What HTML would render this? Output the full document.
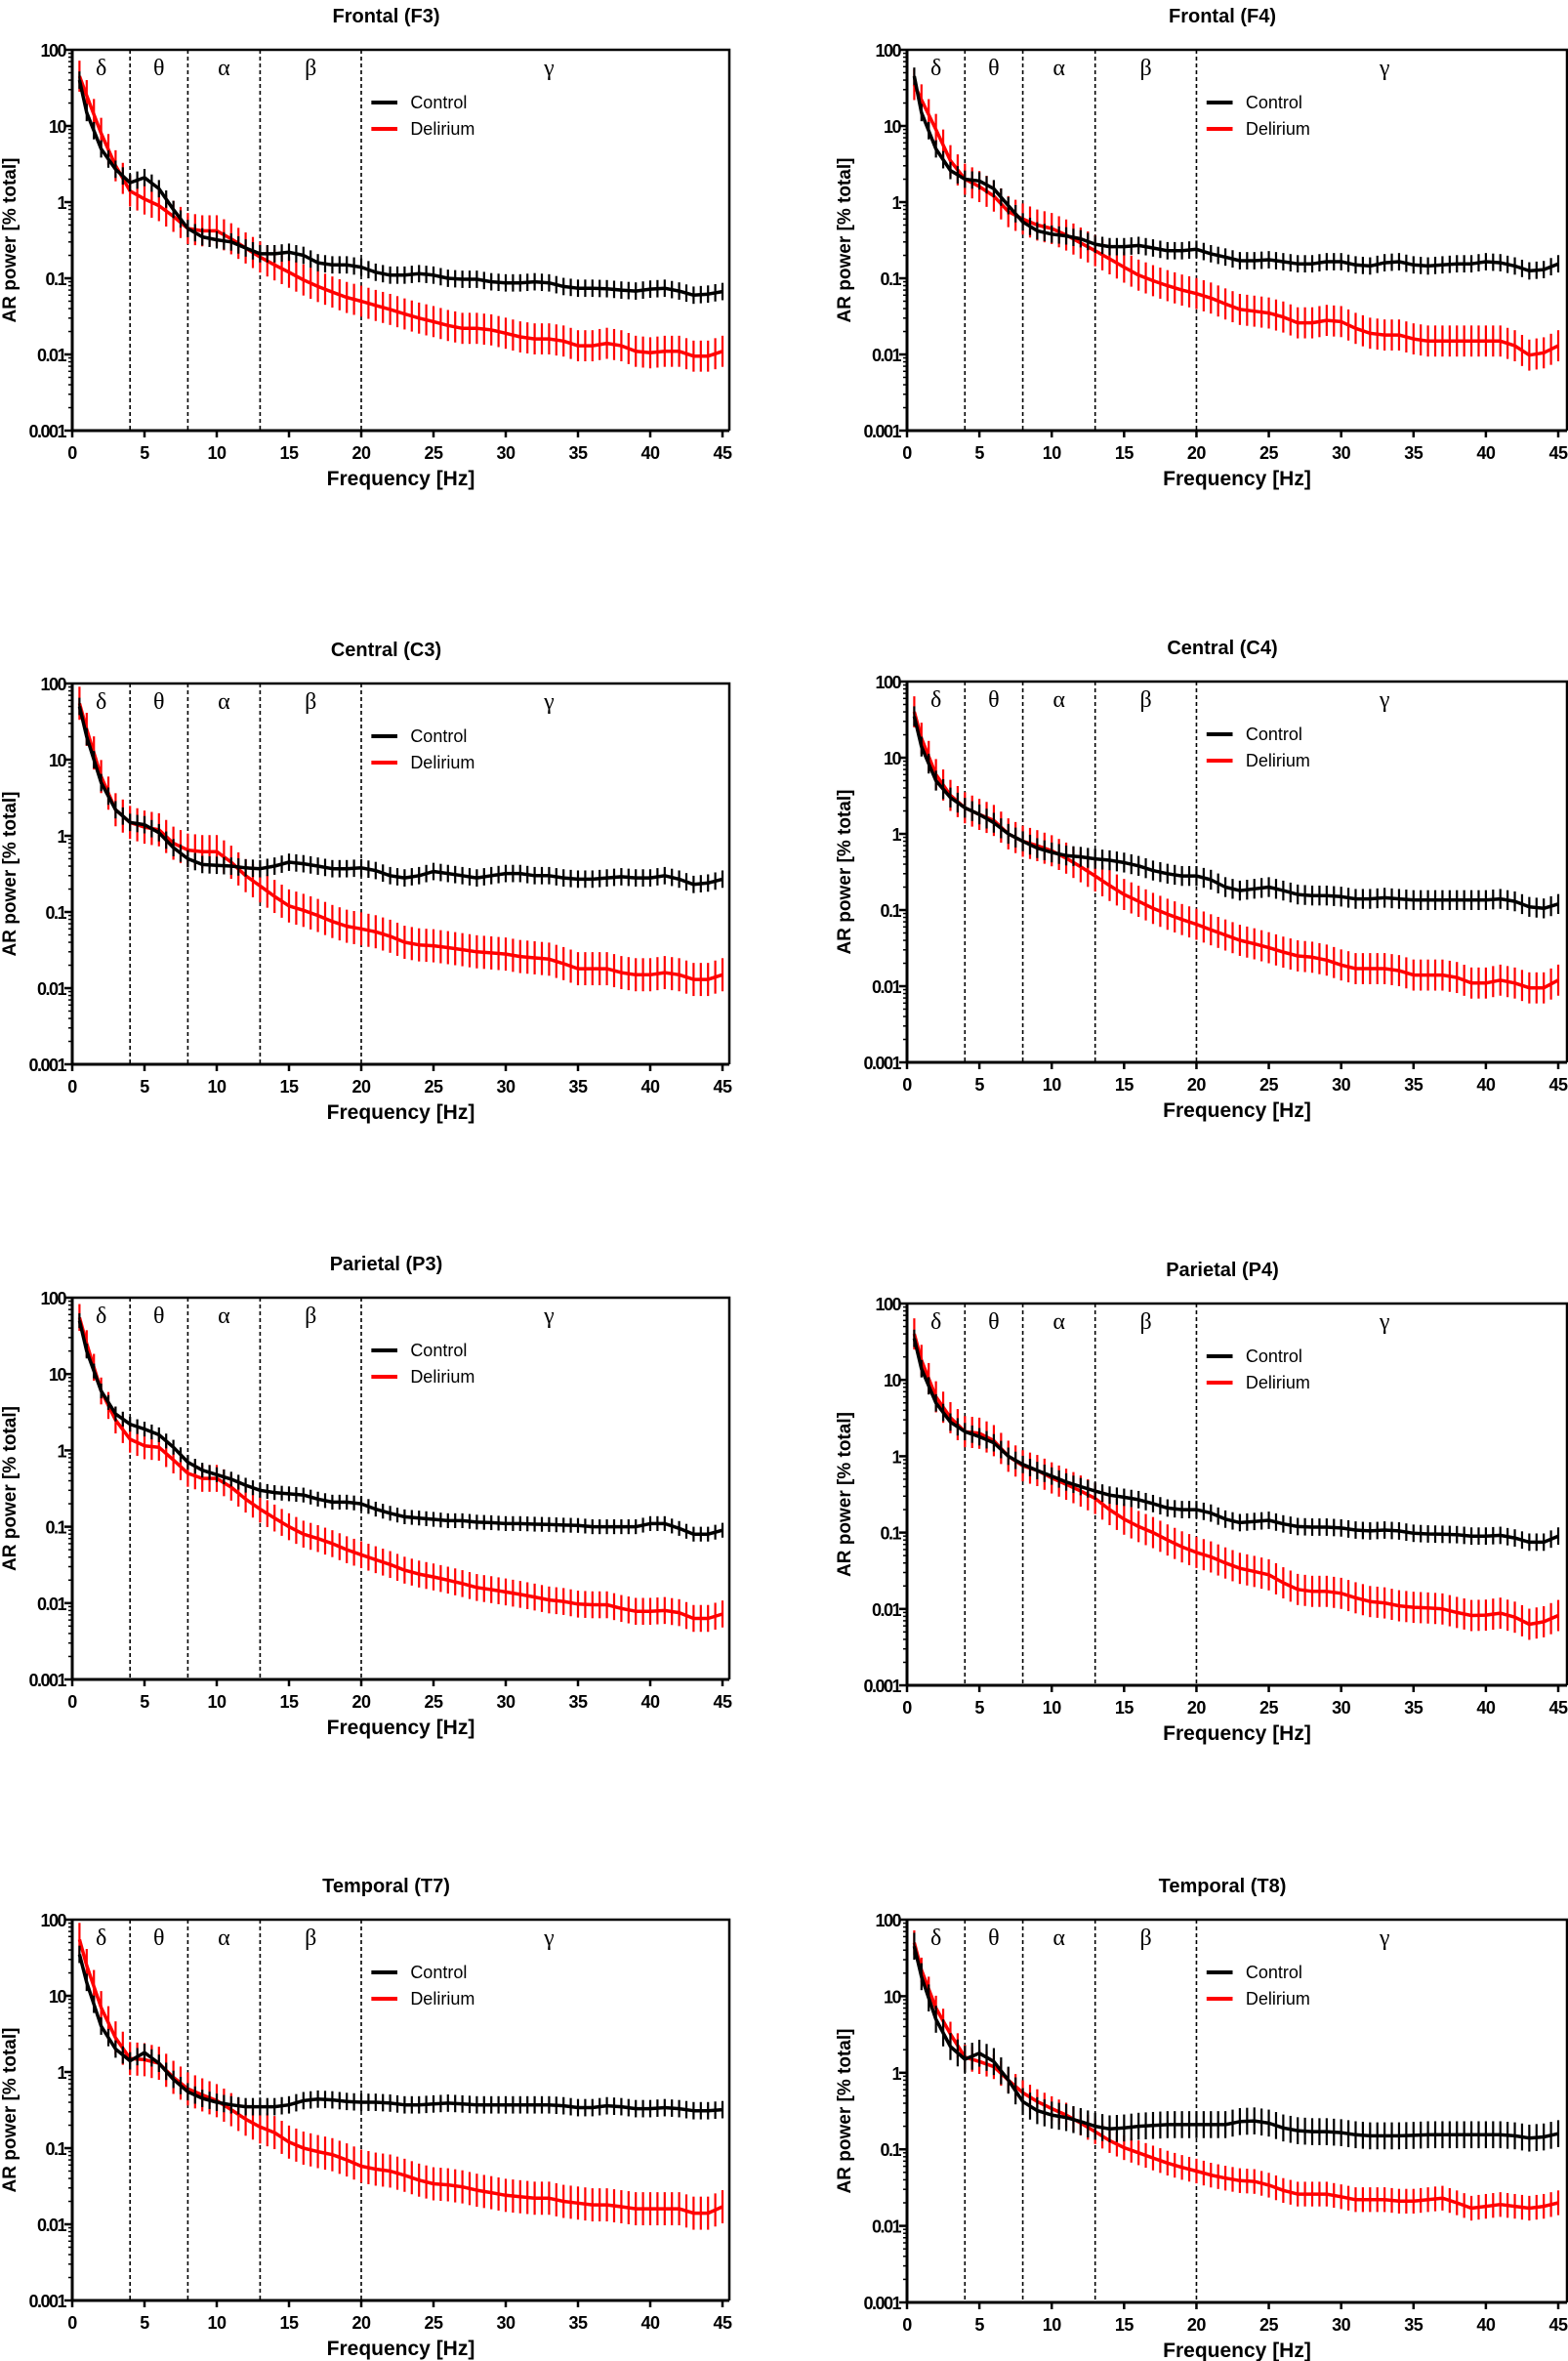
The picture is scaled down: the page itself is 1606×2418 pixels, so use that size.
<!DOCTYPE html>
<html><head><meta charset="utf-8"><style>
html,body{margin:0;padding:0;background:#fff;}
svg{display:block;}
</style></head><body>
<svg id="fig" width="1606" height="2418" viewBox="0 0 1606 2418" xmlns="http://www.w3.org/2000/svg" font-family="Liberation Sans, sans-serif"></svg>
<script>
const freqs = [0.5,1,2,3,4,5,6,7,8,9,10,11,12,13,14,15,16,17,18,19,20,21,22,23,24,25,26,27,28,29,30,31,32,33,34,35,36,37,38,39,40,41,42,43,44,45];
const panelTitles = ["Frontal (F3)","Frontal (F4)","Central (C3)","Central (C4)","Parietal (P3)","Parietal (P4)","Temporal (T7)","Temporal (T8)"];
const yTicks = [100,10,1,0.1,0.01,0.001];
const yTickLabels = ["100","10","1","0.1","0.01","0.001"];
const xTicks = [0,5,10,15,20,25,30,35,40,45];
const bandEdges = [4,8,13,20];
const bandNames = ["δ","θ","α","β","γ"];
const bandCenters = [2,6,10.5,16.5,33];
const errCtrl = [1.3,1.3,1.3,1.35,1.25,1.3,1.3,1.5];
const errDel = [1.6,1.6,1.65,1.6,1.5,1.6,1.65,1.45];

const ctrlF3 = [40,15,5,2.7,1.8,2.1,1.5,0.8,0.45,0.35,0.32,0.3,0.25,0.21,0.21,0.22,0.2,0.16,0.15,0.15,0.14,0.12,0.11,0.11,0.115,0.11,0.1,0.097,0.097,0.09,0.087,0.087,0.09,0.087,0.078,0.074,0.074,0.073,0.07,0.068,0.072,0.074,0.068,0.06,0.062,0.067];
const delF3 = [45,25,8,3,1.4,1.1,0.9,0.65,0.45,0.42,0.42,0.33,0.25,0.19,0.15,0.12,0.095,0.078,0.066,0.056,0.05,0.044,0.039,0.034,0.03,0.027,0.024,0.022,0.022,0.021,0.019,0.017,0.016,0.016,0.015,0.013,0.013,0.014,0.013,0.011,0.0105,0.011,0.011,0.0095,0.0095,0.011];
const ctrlF4 = [45,15,5,2.6,2.0,1.9,1.5,0.9,0.55,0.42,0.38,0.36,0.33,0.28,0.26,0.26,0.27,0.25,0.23,0.23,0.24,0.21,0.19,0.17,0.17,0.175,0.165,0.155,0.155,0.165,0.165,0.15,0.145,0.16,0.165,0.15,0.145,0.15,0.155,0.155,0.165,0.16,0.145,0.125,0.13,0.155];
const delF4 = [35,22,9,3.5,2.0,1.6,1.2,0.75,0.6,0.5,0.45,0.37,0.29,0.23,0.18,0.14,0.11,0.093,0.08,0.07,0.063,0.055,0.046,0.039,0.037,0.035,0.031,0.026,0.026,0.028,0.027,0.022,0.019,0.018,0.018,0.016,0.015,0.015,0.015,0.015,0.015,0.015,0.013,0.0098,0.0105,0.013];
const ctrlC3 = [50,20,5,2.2,1.5,1.4,1.1,0.7,0.5,0.42,0.41,0.4,0.38,0.37,0.4,0.45,0.43,0.4,0.37,0.37,0.38,0.35,0.3,0.28,0.3,0.34,0.32,0.3,0.28,0.3,0.32,0.32,0.3,0.3,0.28,0.27,0.27,0.28,0.29,0.28,0.28,0.3,0.27,0.23,0.24,0.27];
const delC3 = [55,25,6,2.2,1.5,1.3,1.2,0.8,0.65,0.62,0.62,0.45,0.3,0.22,0.16,0.12,0.105,0.09,0.075,0.065,0.06,0.055,0.048,0.04,0.037,0.036,0.034,0.032,0.03,0.029,0.028,0.026,0.025,0.024,0.021,0.018,0.018,0.018,0.016,0.015,0.015,0.016,0.015,0.013,0.013,0.015];
const ctrlC4 = [35,14,5,3,2.2,1.8,1.4,1.0,0.8,0.65,0.57,0.52,0.5,0.47,0.45,0.42,0.38,0.33,0.3,0.28,0.28,0.25,0.2,0.18,0.19,0.2,0.18,0.16,0.155,0.155,0.15,0.14,0.14,0.145,0.14,0.135,0.135,0.135,0.135,0.135,0.135,0.14,0.13,0.11,0.105,0.12];
const delC4 = [40,18,6,3.2,2.2,1.8,1.5,1.0,0.8,0.7,0.6,0.48,0.37,0.28,0.21,0.16,0.13,0.105,0.088,0.075,0.065,0.055,0.047,0.04,0.036,0.032,0.028,0.025,0.024,0.022,0.019,0.017,0.017,0.017,0.016,0.014,0.014,0.014,0.013,0.011,0.011,0.012,0.011,0.0095,0.0095,0.012];
const ctrlP3 = [50,20,6,3,2.2,1.9,1.6,1.1,0.7,0.55,0.48,0.42,0.35,0.3,0.28,0.27,0.26,0.23,0.21,0.21,0.2,0.17,0.15,0.135,0.13,0.125,0.12,0.12,0.115,0.113,0.11,0.11,0.108,0.107,0.105,0.104,0.1,0.1,0.1,0.1,0.11,0.11,0.095,0.08,0.08,0.09];
const delP3 = [55,25,6,2.5,1.4,1.15,1.1,0.75,0.5,0.43,0.43,0.33,0.23,0.17,0.13,0.1,0.08,0.07,0.06,0.05,0.043,0.037,0.032,0.027,0.024,0.022,0.02,0.018,0.016,0.015,0.014,0.013,0.012,0.011,0.0105,0.0097,0.0095,0.0095,0.0085,0.0078,0.0078,0.008,0.0075,0.0063,0.0063,0.0072];
const ctrlP4 = [35,14,5,2.8,2.1,1.8,1.5,1.0,0.78,0.65,0.55,0.46,0.4,0.35,0.31,0.29,0.27,0.24,0.21,0.2,0.2,0.18,0.15,0.135,0.14,0.145,0.13,0.12,0.118,0.118,0.115,0.108,0.105,0.108,0.105,0.098,0.096,0.095,0.094,0.09,0.09,0.092,0.085,0.075,0.075,0.09];
const delP4 = [40,18,6,3.2,2.1,2.0,1.6,1.0,0.75,0.65,0.52,0.43,0.35,0.28,0.2,0.15,0.12,0.1,0.08,0.065,0.055,0.048,0.04,0.034,0.031,0.028,0.022,0.018,0.017,0.017,0.016,0.014,0.0125,0.012,0.011,0.0105,0.0103,0.01,0.009,0.0082,0.0083,0.0088,0.0078,0.0063,0.0068,0.0082];
const ctrlT7 = [35,15,4,2,1.4,1.8,1.3,0.8,0.55,0.45,0.4,0.37,0.35,0.35,0.35,0.37,0.42,0.44,0.43,0.41,0.4,0.4,0.39,0.37,0.37,0.38,0.39,0.38,0.37,0.37,0.37,0.37,0.37,0.37,0.36,0.34,0.34,0.36,0.35,0.33,0.33,0.34,0.33,0.31,0.31,0.32];
const delT7 = [55,25,7,2.8,1.5,1.45,1.3,0.85,0.6,0.5,0.42,0.32,0.24,0.19,0.16,0.12,0.1,0.09,0.082,0.07,0.058,0.053,0.05,0.044,0.038,0.034,0.033,0.031,0.028,0.026,0.024,0.023,0.022,0.022,0.02,0.019,0.018,0.018,0.017,0.016,0.016,0.016,0.016,0.014,0.014,0.017];
const ctrlT8 = [45,18,5,2.2,1.5,1.8,1.4,0.8,0.42,0.32,0.28,0.26,0.23,0.2,0.185,0.19,0.2,0.205,0.21,0.21,0.21,0.21,0.21,0.23,0.235,0.22,0.19,0.175,0.17,0.17,0.165,0.155,0.15,0.15,0.15,0.152,0.155,0.155,0.155,0.155,0.155,0.155,0.15,0.14,0.145,0.16];
const delT8 = [50,22,7,3.2,1.6,1.4,1.2,0.8,0.55,0.42,0.34,0.28,0.22,0.17,0.13,0.105,0.09,0.077,0.066,0.058,0.052,0.046,0.042,0.039,0.038,0.034,0.029,0.026,0.026,0.026,0.024,0.022,0.022,0.022,0.021,0.021,0.022,0.023,0.02,0.017,0.018,0.019,0.018,0.017,0.018,0.02];

const ctrlSeries = [ctrlF3,ctrlF4,ctrlC3,ctrlC4,ctrlP3,ctrlP4,ctrlT7,ctrlT8];
const delSeries = [delF3,delF4,delC3,delC4,delP3,delP4,delT7,delT8];

const layout = [
 {x0:74,x45:740,xr:747,top:51,bot:441},
 {x0:929,x45:1596,xr:1605,top:51,bot:441},
 {x0:74,x45:740,xr:747,top:700,bot:1090},
 {x0:929,x45:1596,xr:1605,top:698,bot:1088},
 {x0:74,x45:740,xr:747,top:1329,bot:1720},
 {x0:929,x45:1596,xr:1605,top:1335,bot:1726},
 {x0:74,x45:740,xr:747,top:1966,bot:2356},
 {x0:929,x45:1596,xr:1605,top:1966,bot:2358}
];

const NS = "http://www.w3.org/2000/svg";
const svg = document.getElementById('fig');
function mk(tag, attrs, parent){
  const e = document.createElementNS(NS, tag);
  for (const k in attrs) e.setAttribute(k, attrs[k]);
  (parent||svg).appendChild(e);
  return e;
}

panelTitles.forEach((title, i) => {
  const L = layout[i];
  const g = mk('g', {});
  
  
  const xs = f => L.x0 + (L.x45 - L.x0) * f / 45;
  const ys = v => L.top + (L.bot - L.top) * (2 - Math.log10(v)) / 5;
  const cx = (L.x0 + L.xr) / 2;

  const t = mk('text', {x: cx - 15, y: L.top - 28, 'text-anchor':'middle', 'font-size':20, 'font-weight':'bold'}, g);
  t.textContent = title;
  
  

  bandEdges.forEach(b => {
    const d = mk('line', {x1: xs(b), x2: xs(b), y1: L.top, y2: L.bot, stroke:'#000', 'stroke-width':1.6, 'stroke-dasharray':'4,3'}, g);
    
    
  });
  bandNames.forEach((n, k) => {
    const bt = mk('text', {x: xs(bandCenters[k]), y: L.top + 26, 'text-anchor':'middle', 'font-size':24, 'font-family':'Liberation Serif, serif'}, g);
    bt.textContent = n;
    
    
  });

  const drawSeries = (vals, err, color, name) => {
    const sg = mk('g', {}, g);
    
    
    vals.forEach((v, k) => {
      const eb = mk('line', {x1: xs(freqs[k]), x2: xs(freqs[k]), y1: ys(v*err), y2: ys(v/err), stroke: color, 'stroke-width':2.2}, sg);
      
      
      if (k > 0 && freqs[k] - freqs[k-1] >= 1) {
        const fm = (freqs[k] + freqs[k-1]) / 2;
        const vm = Math.sqrt(v * vals[k-1]);
        const em = mk('line', {x1: xs(fm), x2: xs(fm), y1: ys(vm*err), y2: ys(vm/err), stroke: color, 'stroke-width':2.2}, sg);
        
        
      }
    });
    const pts = vals.map((v, k) => xs(freqs[k]).toFixed(1) + ',' + ys(v).toFixed(1)).join(' ');
    const pl = mk('polyline', {points: pts, fill:'none', stroke: color, 'stroke-width':3.5, 'stroke-linejoin':'round'}, sg);
    
    
  };
  drawSeries(delSeries[i], errDel[i], '#ff0000', 'delirium');
  drawSeries(ctrlSeries[i], errCtrl[i], '#000000', 'control');

  const fr = mk('path', {d: `M${L.x0},${L.top} H${L.xr} V${L.bot}`, fill:'none', stroke:'#000', 'stroke-width':2.5}, g);
  
  
  const ya = mk('line', {x1: L.x0, x2: L.x0, y1: L.top - 1, y2: L.bot + 1, stroke:'#000', 'stroke-width':3}, g);
  
  
  const xa = mk('line', {x1: L.x0 - 1, x2: L.xr, y1: L.bot, y2: L.bot, stroke:'#000', 'stroke-width':3}, g);
  
  

  yTicks.forEach((v, k) => {
    const y = ys(v);
    mk('line', {x1: L.x0 - 8, x2: L.x0, y1: y, y2: y, stroke:'#000', 'stroke-width':2.5}, g);
    const tl = mk('text', {x: L.x0 - 7, y: y + 7, 'text-anchor':'end', 'font-size':18, 'font-weight':'bold', 'letter-spacing':'-1.5'}, g);
    tl.textContent = yTickLabels[k];
    
    
    if (k < yTicks.length - 1) {
      for (let m = 2; m <= 9; m++) {
        const ym = ys(v / 10 * m);
        mk('line', {x1: L.x0 - 4, x2: L.x0, y1: ym, y2: ym, stroke:'#000', 'stroke-width':1.5}, g);
      }
    }
  });
  xTicks.forEach(f => {
    mk('line', {x1: xs(f), x2: xs(f), y1: L.bot, y2: L.bot + 7, stroke:'#000', 'stroke-width':2.5}, g);
    const tl = mk('text', {x: xs(f), y: L.bot + 29, 'text-anchor':'middle', 'font-size':18, 'font-weight':'bold', 'letter-spacing':'-0.5'}, g);
    tl.textContent = f;
    
    
  });
  const xl = mk('text', {x: cx, y: L.bot + 56, 'text-anchor':'middle', 'font-size':21, 'font-weight':'bold'}, g);
  xl.textContent = 'Frequency [Hz]';
  
  
  const ylx = L.x0 - 58, yly = (L.top + L.bot) / 2;
  const yl = mk('text', {x: ylx, y: yly, 'text-anchor':'middle', 'font-size':19, 'font-weight':'bold', transform:`rotate(-90 ${ylx} ${yly})`}, g);
  yl.textContent = 'AR power [% total]';
  
  

  const lg = mk('g', {}, g);
  
  
  [['Control','#000',54],['Delirium','#ff0000',81]].forEach(([n,c,dy]) => {
    const y = L.top + dy;
    mk('line', {x1: xs(20.7), x2: xs(22.5), y1: y, y2: y, stroke: c, 'stroke-width':4}, lg);
    const lt = mk('text', {x: xs(23.4), y: y + 6, 'font-size':18}, lg);
    lt.textContent = n;
    
    
  });
});
</script>
</body></html>
